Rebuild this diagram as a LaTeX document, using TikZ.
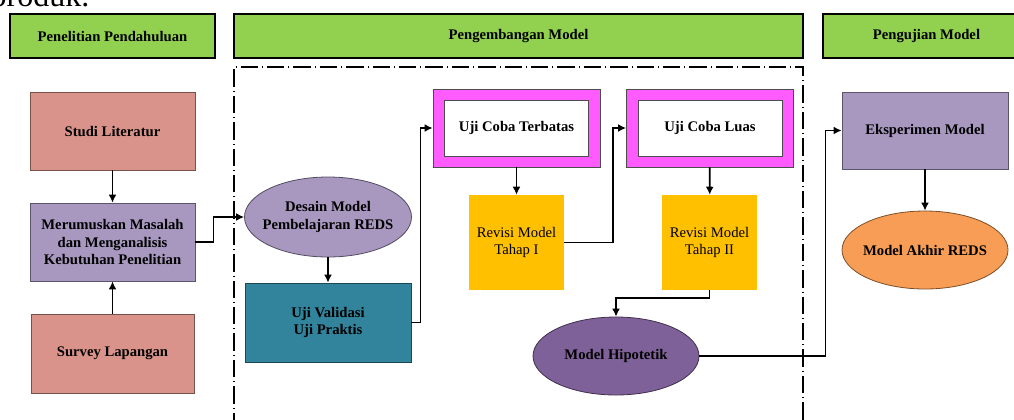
\documentclass[tikz,border=0pt]{standalone}
\usepackage{fontspec}
\setmainfont{Liberation Serif}
\usepackage{xcolor}
\usepackage{tikz}
\usetikzlibrary{shapes.geometric, positioning, arrows.meta}

\definecolor{hijau}{HTML}{92D050}
\definecolor{merahmuda}{HTML}{D9938A}
\definecolor{ungumuda}{HTML}{A898C0}
\definecolor{tosca}{HTML}{31849B}
\definecolor{magenta2}{HTML}{FF5BFF}
\definecolor{kuning}{HTML}{FFC000}
\definecolor{unguTua}{HTML}{7F6199}
\definecolor{oranye}{HTML}{F79D55}

\begin{document}
\begin{tikzpicture}[>={Latex[length=6pt,width=6pt]}, x=0.75pt, y=-0.75pt,
    font=\fontsize{11}{13}\selectfont\bfseries,
    judul/.style={draw=black, line width=1pt, fill=hijau, minimum height=33pt, inner sep=0pt},
    kotak/.style={draw=#1!55!black, fill=#1, line width=0.6pt, minimum width=123.75pt, minimum height=58.5pt, align=center, inner sep=0pt},
    elips/.style={ellipse, draw=#1!50!black, fill=#1, line width=0.6pt, minimum width=124.5pt, minimum height=58.5pt, inner sep=0pt},
    ujibox/.style={draw=black!70, fill=magenta2, line width=0.6pt, minimum width=125.25pt, minimum height=58.5pt},
    dalam/.style={draw=black!70, fill=white, line width=0.6pt, minimum width=108pt, minimum height=42pt},
    revisi/.style={fill=kuning, minimum width=71.25pt, minimum height=71.25pt, align=center, inner sep=0pt, font=\fontsize{11}{13}\selectfont},
    panah/.style={->, line width=1.3pt},
    garis/.style={line width=1.2pt, dash pattern=on 13pt off 3pt on 0.8pt off 3pt}]
    \useasboundingbox (0,0) rectangle (1014,419);
    \clip (0,0) rectangle (1014,419);

    % Teks di atas
    \node[anchor=base west, font=\fontsize{24}{28}\selectfont] (produk) at (-14,6) {produk.};

    % Judul tahap
    \node[judul, minimum width=153.75pt] (tahap1) at (112.5,36) {Penelitian Pendahuluan};
    \node[judul, minimum width=426.75pt] (tahap2) at (518.5,36) {Pengembangan Model};
    \node[judul, minimum width=155.25pt] (tahap3) at (926.5,36) {Pengujian Model};

    % Garis batas pengembangan
    \draw[garis] (234,430) -- (234,67) -- (803,67) -- (803,430);

    % Penelitian pendahuluan
    \node[kotak=merahmuda] (studi) at (112.5,131) {Studi Literatur};
    \node[kotak=ungumuda] (rumus) at (112.5,242) {Merumuskan Masalah\\dan Menganalisis\\Kebutuhan Penelitian};
    \node[kotak=merahmuda, minimum width=122.25pt, minimum height=59.25pt] (survey) at (112.5,353.5) {Survey Lapangan};

    % Pengembangan model
    \node[elips=ungumuda, minimum width=125.25pt, minimum height=60pt,
          label={[align=center]center:Desain Model\\Pembelajaran REDS}] (desain) at (328,217) {};
    \node[kotak=tosca, minimum width=124.5pt, minimum height=59.25pt] (validasi) at (328,322.5) {Uji Validasi\\Uji Praktis};
    \node[ujibox] (terbatas) at (516.5,128) {};
    \node[dalam] (terbatasteks) at (terbatas) {Uji Coba Terbatas};
    \node[revisi] (revisi1) at (516.5,242.5) {Revisi Model\\Tahap I};
    \node[ujibox] (luas) at (710,128) {};
    \node[dalam] (luasteks) at (luas) {Uji Coba Luas};
    \node[revisi] (revisi2) at (709.5,242.5) {Revisi Model\\Tahap II};
    \node[elips=unguTua, label={center:Model Hipotetik}] (hipotetik) at (616,356) {};

    % Pengujian model
    \node[kotak=ungumuda, minimum width=124.5pt, minimum height=57.75pt] (eksperimen) at (925,130.5) {Eksperimen Model};
    \node[elips=oranye, label={center:Model Akhir REDS}] (akhir) at (925,250) {};

    % Panah
    \draw[panah] (studi) -- (rumus);
    \draw[panah] (survey) -- (rumus);
    \draw[panah] (rumus.east) -- ++(18,0) |- (desain.west);
    \draw[panah] (desain) -- (validasi);
    \draw[panah] (validasi.east) -- ++(9,0) |- (terbatas.west);
    \draw[panah] (terbatas) -- (revisi1);
    \draw[panah] (revisi1.east) -- ++(49,0) |- (luas.west);
    \draw[panah] (luas) -- (revisi2);
    \draw[panah] (revisi2.south) -- ++(0,8) -| (hipotetik.north);
    \draw[panah] (hipotetik.east) -- ++(126,0) |- (eksperimen.west);
    \draw[panah] (eksperimen) -- (akhir);

\end{tikzpicture}
\end{document}
